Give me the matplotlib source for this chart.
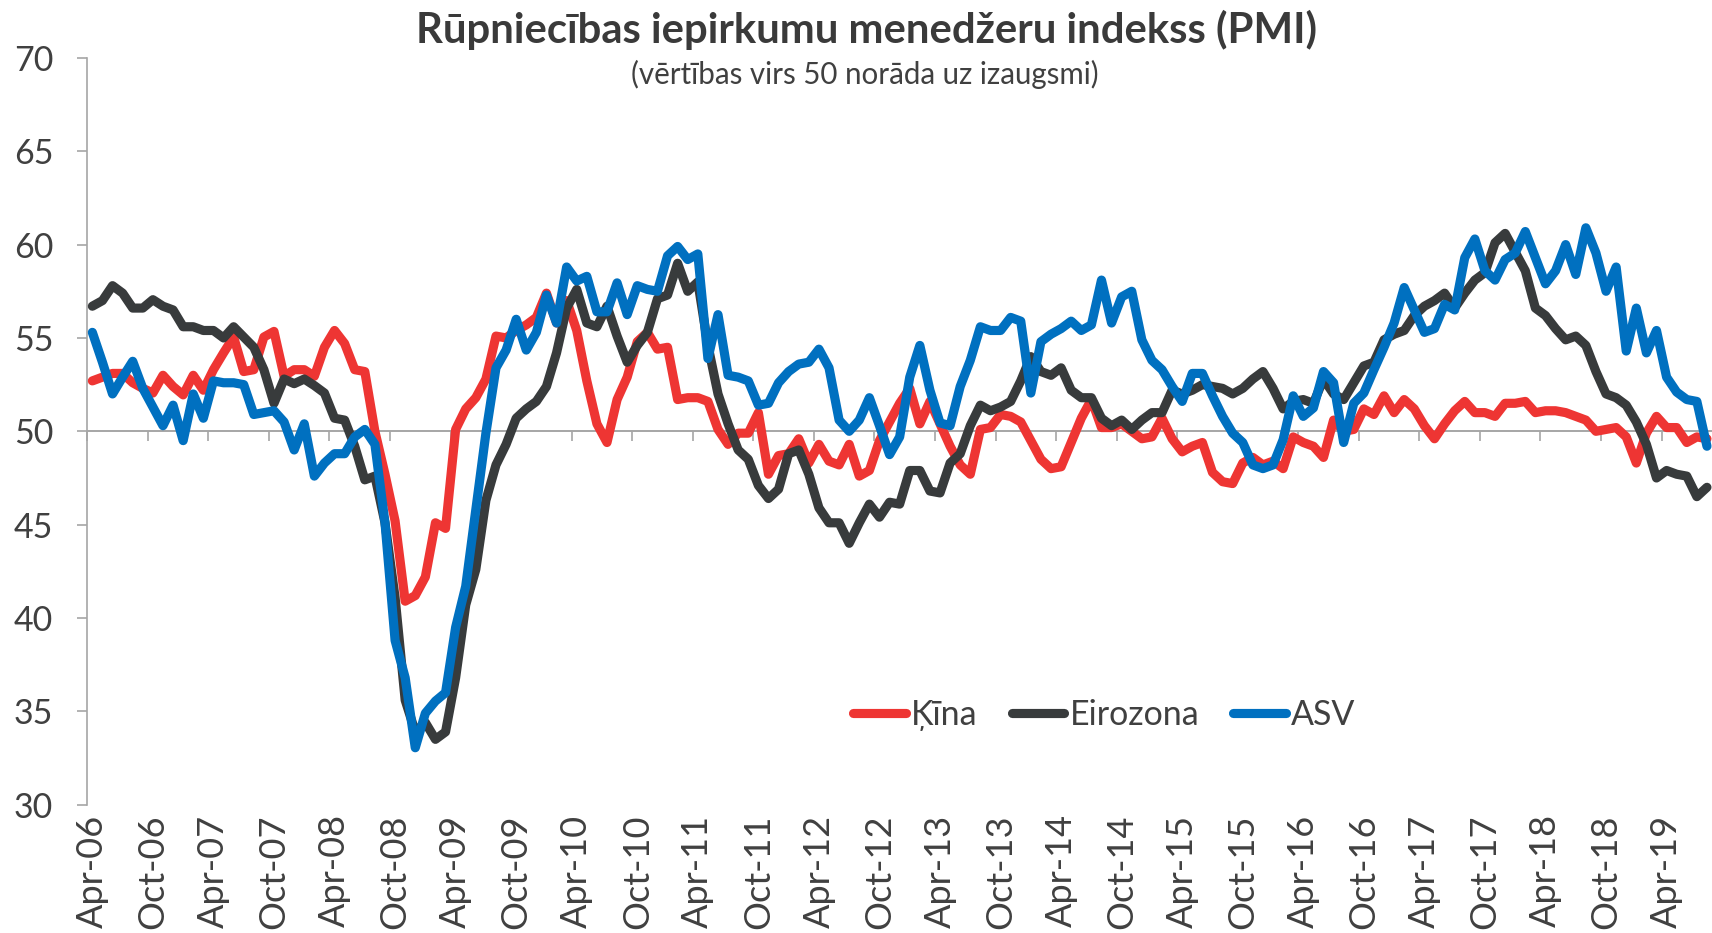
import matplotlib
matplotlib.use("Agg")
import matplotlib.pyplot as plt
import numpy as np

# ---------------- data ----------------
tick_labels = ["Apr-06", "Oct-06", "Apr-07", "Oct-07", "Apr-08", "Oct-08", "Apr-09",
               "Oct-09", "Apr-10", "Oct-10", "Apr-11", "Oct-11", "Apr-12", "Oct-12",
               "Apr-13", "Oct-13", "Apr-14", "Oct-14", "Apr-15", "Oct-15", "Apr-16",
               "Oct-16", "Apr-17", "Oct-17", "Apr-18", "Oct-18", "Apr-19"]

# monthly values, Apr-2006 ... Aug-2019
china = [
    52.7, 52.9, 53.1, 53.1, 52.6, 52.3, 52.05, 53.0, 52.4,
    51.95, 53.0, 52.2, 53.3, 54.2, 55.05, 53.2, 53.3, 55.05, 55.35, 52.95, 53.3,
    53.3, 52.95, 54.5, 55.4, 54.7, 53.3, 53.2, 50.0, 47.7, 45.2, 40.9, 41.2,
    42.2, 45.1, 44.8, 50.1, 51.2, 51.8, 52.8, 55.1, 55.0, 55.4, 55.7, 56.1,
    57.4, 55.8, 57.0, 55.4, 52.7, 50.4, 49.4, 51.7, 52.9, 54.8, 55.3, 54.4,
    54.5, 51.7, 51.8, 51.8, 51.6, 50.1, 49.3, 49.9, 49.9, 51.0, 47.7, 48.7,
    48.8, 49.6, 48.3, 49.3, 48.4, 48.2, 49.3, 47.6, 47.9, 49.5, 50.5, 51.5,
    52.3, 50.4, 51.6, 50.4, 49.2, 48.2, 47.7, 50.1, 50.2, 50.9, 50.8, 50.5,
    49.5, 48.5, 48.0, 48.1, 49.4, 50.7, 51.7, 50.2, 50.2, 50.4, 50.0, 49.6,
    49.7, 50.7, 49.6, 48.9, 49.2, 49.4, 47.8, 47.3, 47.2, 48.3, 48.6, 48.2,
    48.4, 48.0, 49.7, 49.4, 49.2, 48.6, 50.6, 50.0, 50.1, 51.2, 50.9, 51.9,
    51.0, 51.7, 51.2, 50.3, 49.6, 50.4, 51.1, 51.6, 51.0, 51.0, 50.8, 51.5,
    51.5, 51.6, 51.0, 51.1, 51.1, 51.0, 50.8, 50.6, 50.0, 50.1, 50.2, 49.7,
    48.3, 49.9, 50.8, 50.2, 50.2, 49.4, 49.7, 49.6,
]

eurozone = [
    56.7, 57.0, 57.8, 57.4, 56.6, 56.6, 57.05, 56.7, 56.5,
    55.6, 55.6, 55.4, 55.4, 55.0, 55.6, 55.05, 54.5, 53.3, 51.5, 52.8, 52.55,
    52.8, 52.45, 52.05, 50.7, 50.6, 49.2, 47.4, 47.6, 45.1, 41.1, 35.6, 33.9,
    34.4, 33.5, 33.9, 36.8, 40.7, 42.6, 46.3, 48.2, 49.3, 50.7, 51.2, 51.6,
    52.4, 54.2, 56.6, 57.6, 55.8, 55.6, 56.7, 55.1, 53.7, 54.6, 55.3, 57.1,
    57.3, 59.0, 57.5, 58.0, 54.6, 52.0, 50.4, 49.0, 48.5, 47.1, 46.4, 46.9,
    48.8, 49.0, 47.7, 45.9, 45.1, 45.1, 44.0, 45.1, 46.1, 45.4, 46.2, 46.1,
    47.9, 47.9, 46.8, 46.7, 48.3, 48.8, 50.3, 51.4, 51.1, 51.3, 51.6, 52.7,
    54.0, 53.2, 53.0, 53.4, 52.2, 51.8, 51.8, 50.7, 50.3, 50.6, 50.1, 50.6,
    51.0, 51.0, 52.2, 52.0, 52.2, 52.5, 52.4, 52.3, 52.0, 52.3, 52.8, 53.2,
    52.3, 51.2, 51.6, 51.7, 51.5, 52.8, 52.0, 51.7, 52.6, 53.5, 53.7, 54.9,
    55.2, 55.4, 56.2, 56.7, 57.0, 57.4, 56.6, 57.4, 58.1, 58.5, 60.1, 60.6,
    59.6, 58.6, 56.6, 56.2, 55.5, 54.9, 55.1, 54.6, 53.2, 52.0, 51.8, 51.4,
    50.5, 49.3, 47.5, 47.9, 47.7, 47.6, 46.5, 47.0,
]

usa = [
    55.3, 53.7, 52.0, 52.9, 53.75, 52.3, 51.3, 50.3, 51.4,
    49.5, 52.0, 50.7, 52.7, 52.6, 52.6, 52.5, 50.9, 51.0, 51.1, 50.5, 49.0,
    50.4, 47.6, 48.3, 48.8, 48.8, 49.7, 50.1, 49.3, 45.1, 38.8, 36.8, 33.05,
    34.9, 35.55, 36.0, 39.5, 41.7, 45.8, 49.9, 53.4, 54.35, 56.0, 54.35, 55.3,
    57.3, 55.8, 58.8, 58.05, 58.3, 56.4, 56.4, 57.95, 56.25, 57.8, 57.6, 57.5,
    59.4, 59.9, 59.2, 59.5, 53.9, 56.25, 53.0, 52.9, 52.7, 51.4, 51.5, 52.6,
    53.2, 53.6, 53.7, 54.4, 53.4, 50.6, 50.0, 50.6, 51.8, 50.3, 48.75, 49.7,
    52.9, 54.6, 52.2, 50.45, 50.3, 52.4, 53.8, 55.6, 55.4, 55.4, 56.1, 55.9,
    52.05, 54.8, 55.2, 55.5, 55.9, 55.4, 55.7, 58.1, 55.8, 57.2, 57.5, 54.9,
    53.8, 53.3, 52.4, 51.6, 53.1, 53.1, 51.9, 50.8, 49.9, 49.4, 48.2, 48.0,
    48.2, 49.55, 51.9, 50.8, 51.25, 53.2, 52.6, 49.4, 51.5, 52.05, 53.3, 54.5,
    55.8, 57.7, 56.5, 55.3, 55.5, 56.8, 56.5, 59.3, 60.3, 58.6, 58.1, 59.2,
    59.55, 60.7, 59.3, 57.9, 58.6, 60.0, 58.4, 60.9, 59.55, 57.5, 58.8, 54.3,
    56.6, 54.2, 55.4, 52.9, 52.1, 51.7, 51.6, 49.2,
]

series_names = ["Ķīna", "Eirozona", "ASV"]
title = "Rūpniecības iepirkumu menedžeru indekss (PMI)"
subtitle = "(vērtības virs 50 norāda uz izaugsmi)"
cross_value = 50

# ---------------- style ----------------
RED = "#EE3533"
DARK = "#383B3C"
BLUE = "#0070C0"
TXT = "#404040"
AXC = "#A6A6A6"

plt.rcParams['font.family'] = ['Lato', 'DejaVu Sans']

W, H = 1712, 933
fig = plt.figure(figsize=(W / 100, H / 100), dpi=100)
left_px, top_px, bottom_px = 87.3, 57.9, 804.7
ax = fig.add_axes([left_px / W, 1 - bottom_px / H, (W - left_px) / W, (bottom_px - top_px) / H])

n = len(china)
x = np.arange(n)

# horizontal axis line crossing at 50
ax.axhline(cross_value, color=AXC, lw=1.4, zorder=1)

for vals, col, name in zip([china, eurozone, usa], [RED, DARK, BLUE], series_names):
    ax.plot(x, vals, color=col, lw=6.6, solid_joinstyle='round', solid_capstyle='round',
            label=name, zorder=3)

ax.set_xlim(-0.5, n - 0.5)
ax.set_ylim(30, 70)
ax.set_yticks(np.arange(30, 71, 5))
ax.tick_params(axis='y', length=7.5, width=1.2, color=AXC, labelsize=24.5,
               labelcolor=TXT, pad=17)
for s in ['top', 'right', 'bottom']:
    ax.spines[s].set_visible(False)
ax.spines['left'].set_color(AXC)
ax.spines['left'].set_linewidth(1.2)

# category labels at the bottom (every 6 months)
ax.set_xticks(np.arange(0, n, 6))
ax.set_xticklabels(tick_labels, rotation=90)
ax.tick_params(axis='x', length=0, pad=7, labelsize=26, labelcolor=TXT)

# tick marks between categories on the 50 line
sec = ax.secondary_xaxis((cross_value - 30) / (70 - 30))
sec.set_xticks(np.arange(-0.5, n, 6))
sec.xaxis.set_ticks_position('bottom')
sec.tick_params(axis='x', length=7.5, width=1.2, color=AXC, direction='out',
                labelbottom=False, labeltop=False)
for s in ['top', 'left', 'right', 'bottom']:
    sec.spines[s].set_visible(False)

leg = ax.legend(loc='center', bbox_to_anchor=(0.626, 0.12), ncol=3, frameon=False,
                fontsize=24.5, handlelength=1.55, handletextpad=0.15, columnspacing=1.0)
for t in leg.get_texts():
    t.set_color(TXT)

# titles, fitted to the reference widths
renderer = fig.canvas.get_renderer()

def fitted_text(xc, yc, s, target_w, size, **kw):
    t = fig.text(xc / W, 1 - yc / H, s, ha='center', va='center', fontsize=size, **kw)
    for _ in range(3):
        w = t.get_window_extent(renderer).width
        size *= target_w / w
        t.set_fontsize(size)
    return t

fitted_text(866, 29.5, title, 903, 27, fontweight='bold', color='#3A3A3A')
fitted_text(865, 74, subtitle, 468, 19, color=TXT)

fig.savefig("out.png", dpi=100)
